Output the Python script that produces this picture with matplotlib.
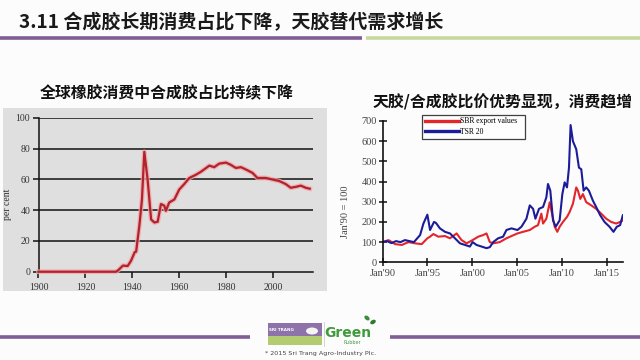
import matplotlib
matplotlib.use("Agg")
import matplotlib.pyplot as plt
from matplotlib.patches import Rectangle, Ellipse

cjk = ['Noto Sans CJK SC', 'DejaVu Sans']
serif = 'Liberation Serif'

title = "3.11 合成胶长期消费占比下降，天胶替代需求增长"
left_title = "全球橡胶消费中合成胶占比持续下降"
right_title = "天胶/合成胶比价优势显现，消费趋增"

# left chart: synthetic share of world rubber consumption (per cent)
syn_years = [1900, 1933, 1934, 1936, 1938, 1939.4, 1941, 1941.6, 1943, 1944.1,
             1945.1, 1946.5, 1948, 1949.4, 1950.8, 1952.2, 1953.6, 1954.3,
             1955.7, 1957.9, 1960, 1962.1, 1964.3, 1967, 1969.2, 1972.8,
             1974.9, 1977, 1979.9, 1982, 1984.1, 1986.3, 1988.4, 1991.2,
             1993.3, 1996.9, 1999.7, 2002.6, 2005.4, 2007.5, 2009.7, 2011.8,
             2013.9, 2015.6]
syn_share = [0, 0, 1, 4, 3.7, 7, 12.7, 13, 30, 47,
             78, 60, 34, 32, 32.5, 44, 43, 39.6,
             45, 47, 53.5, 57, 61, 63, 65, 69,
             68, 70.3, 71, 69.5, 67.5, 68, 66.5, 64.3,
             61, 61, 60, 59, 57, 54.6, 55.2, 56,
             54.6, 54]
left_xticks = [1900, 1920, 1940, 1960, 1980, 2000]
left_yticks = [0, 20, 40, 60, 80, 100]

# right chart: price index, Jan'90 = 100
tsr_t = [1990.0, 1990.5, 1991.0, 1991.5, 1992.0, 1992.5, 1993.0, 1993.5,
         1994.19, 1994.56, 1995.0, 1995.3, 1995.74, 1995.96, 1996.4, 1996.96,
         1997.52, 1998.07, 1998.63, 1999.19, 1999.74, 2000.04, 2000.48,
         2001.04, 2001.59, 2001.96, 2002.33, 2002.89, 2003.44, 2003.81,
         2004.37, 2005.04, 2005.48, 2006.04, 2006.41, 2006.78, 2007.04,
         2007.44, 2007.89, 2008.26, 2008.44, 2008.7, 2009.0, 2009.3, 2009.74,
         2010.04, 2010.3, 2010.56, 2010.78, 2010.96, 2011.22, 2011.59,
         2011.89, 2012.15, 2012.41, 2012.7, 2013.0, 2013.44, 2013.81,
         2014.26, 2014.74, 2015.3, 2015.74, 2016.11, 2016.48, 2016.78]
tsr_v = [100, 105, 95, 105, 100, 110, 105, 100,
         135, 192, 236, 160, 200, 195, 168, 151,
         143, 119, 94, 86, 78, 100, 86,
         78, 70, 75, 100, 119, 127, 160,
         168, 160, 176, 216, 282, 265, 216,
         265, 274, 322, 388, 355, 208, 176, 208,
         338, 396, 371, 469, 680, 600, 560,
         469, 461, 355, 371, 355, 306, 274,
         233, 200, 176, 151, 176, 184, 233]
sbr_t = [1990.0, 1990.67, 1991.41, 1992.15, 1992.89, 1993.63, 1994.37, 1995.0,
         1995.3, 1995.67, 1996.22, 1996.96, 1997.52, 1998.26, 1998.81,
         1999.37, 2000.04, 2000.67, 2001.22, 2001.59, 2001.96, 2002.33,
         2003.07, 2003.81, 2004.37, 2005.04, 2005.67, 2006.41, 2006.96,
         2007.33, 2007.7, 2007.89, 2008.26, 2008.63, 2008.93, 2009.19,
         2009.48, 2009.74, 2010.11, 2010.56, 2010.85, 2011.22, 2011.59,
         2011.78, 2012.04, 2012.33, 2012.7, 2013.26, 2013.81, 2014.37,
         2014.93, 2015.48, 2016.04, 2016.48, 2016.78]
sbr_v = [100, 110, 90, 86, 100, 94, 90, 119,
         127, 140, 127, 130, 119, 143, 110,
         94, 110, 127, 135, 143, 100, 94,
         100, 119, 130, 143, 151, 160, 176,
         184, 241, 192, 216, 297, 233, 176,
         151, 176, 200, 225, 249, 290, 371,
         355, 314, 338, 298, 282, 265, 241,
         216, 200, 192, 200, 208]
right_xticks = [1990, 1995, 2000, 2005, 2010, 2015]
right_xlabels = ["Jan'90", "Jan'95", "Jan'00", "Jan'05", "Jan'10", "Jan'15"]
right_yticks = [0, 100, 200, 300, 400, 500, 600, 700]

W, H = 640, 360
fig = plt.figure(figsize=(6.4, 3.6), dpi=100)
fig.patch.set_facecolor('#fdfcfd')


def box(x0, y0, x1, y1):
    # pixel box (top-left origin) -> figure fraction rect
    return [x0 / W, 1 - y1 / H, (x1 - x0) / W, (y1 - y0) / H]


bg = fig.add_axes([0, 0, 1, 1], zorder=0)
bg.set_xlim(0, W)
bg.set_ylim(H, 0)
bg.axis('off')

bg.text(19, 23, title, family=cjk, fontsize=13.7, fontweight='bold',
        color='#1a1a1a', va='center', ha='left')
bg.plot([0, 362], [38, 38], color='#7f5f96', lw=2.6, solid_capstyle='butt')
bg.plot([366, 640], [38, 38], color='#c9d99e', lw=2.6, solid_capstyle='butt')

bg.text(40, 93, left_title, family=cjk, fontsize=11.4, fontweight='bold',
        color='#111111', va='center', ha='left')
bg.text(373, 102, right_title, family=cjk, fontsize=11.4, fontweight='bold',
        color='#111111', va='center', ha='left')
bg.add_patch(Rectangle((3, 108), 324, 183, color='#dfdfdf', lw=0))

# footer
bg.plot([0, 250], [337, 337], color='#7f5f96', lw=2.6, solid_capstyle='butt')
bg.plot([390, 640], [337, 337], color='#7f5f96', lw=2.6, solid_capstyle='butt')
bg.add_patch(Rectangle((268, 323), 54, 13, color='#8e72aa', lw=0))
bg.add_patch(Rectangle((268, 336), 54, 9, color='#b3cc72', lw=0))
bg.text(281, 330, "SRI TRANG", fontsize=3, color='white', fontweight='bold',
        ha='center', va='center')
bg.add_patch(Ellipse((312, 331), 12, 7, color='#f4f4f4', lw=0))
bg.plot([324, 324], [322, 346], color='#cccccc', lw=0.6)
bg.text(348, 333, "Green", fontsize=10, color='#3f9a3c', fontweight='bold',
        ha='center', va='center')
bg.text(352, 343, "Rubber", fontsize=3.5, color='#3f9a3c', ha='center',
        va='center')
bg.add_patch(Ellipse((367, 318), 6, 4, angle=40, color='#3c8c3a', lw=0))
bg.add_patch(Ellipse((373, 322), 6, 4, angle=-30, color='#2f7a30', lw=0))
bg.text(265, 353, "* 2015 Sri Trang Agro-Industry Plc.", fontsize=4.6,
        color='#444444', ha='left', va='center')

# left chart
axl = fig.add_axes(box(38.5, 118, 313, 271.7), zorder=2)
axl.patch.set_alpha(0)
axl.plot(syn_years, syn_share, color='#f4a5a8', lw=3.4, alpha=0.8, zorder=3,
         clip_on=False)
axl.plot(syn_years, syn_share, color='#b0232c', lw=1.6, zorder=4,
         clip_on=False)
axl.set_xlim(1900, 2017)
axl.set_ylim(0, 100)
axl.set_xticks(left_xticks)
axl.set_yticks(left_yticks)
for v in left_yticks[1:]:
    axl.axhline(v, color='#111111', lw=1.1, zorder=2)
for s in ['top', 'right']:
    axl.spines[s].set_visible(False)
axl.spines['left'].set_color('#111111')
axl.spines['bottom'].set_color('#111111')
axl.spines['left'].set_linewidth(1.1)
axl.spines['bottom'].set_linewidth(1.1)
axl.tick_params(axis='both', direction='out', length=4, width=1.1,
                color='#111111', labelsize=7, labelcolor='#333333')
axl.tick_params(axis='x', pad=4)
axl.tick_params(axis='y', pad=2)
for lab in axl.get_xticklabels() + axl.get_yticklabels():
    lab.set_family(serif)
axl.set_ylabel("per cent", family=serif, fontsize=7, color='#333333')
axl.yaxis.set_label_coords(-0.098, 0.44)

# right chart
axr = fig.add_axes(box(382.5, 121, 623, 262.3), zorder=2)
axr.patch.set_alpha(0)
axr.plot(sbr_t, sbr_v, color='#e2262b', lw=1.5, label='SBR export values')
axr.plot(tsr_t, tsr_v, color='#1c1c9a', lw=1.5, label='TSR 20')
axr.set_xlim(1990, 2016.8)
axr.set_ylim(0, 700)
axr.set_xticks(right_xticks)
axr.set_xticklabels(right_xlabels)
axr.set_yticks(right_yticks)
for s in ['top', 'right']:
    axr.spines[s].set_visible(False)
for s in ['left', 'bottom']:
    axr.spines[s].set_color('#111111')
    axr.spines[s].set_linewidth(1.2)
axr.tick_params(axis='both', direction='inout', length=6, width=1.1,
                color='#111111', labelsize=7.5, labelcolor='#444444')
axr.tick_params(axis='x', pad=2)
axr.tick_params(axis='y', pad=1)
for lab in axr.get_xticklabels() + axr.get_yticklabels():
    lab.set_family(serif)
axr.set_ylabel("Jan'90 = 100", family=serif, fontsize=7.5, color='#444444')
axr.yaxis.set_label_coords(-0.135, 0.356)
leg = axr.legend(loc='upper left', bbox_to_anchor=(0.164, 0.866, 0.43, 0.18),
                 mode='expand', prop={'family': serif, 'size': 5.5},
                 frameon=True, fancybox=False, handlelength=4.5,
                 handletextpad=0.1, borderpad=0.35, labelspacing=0.35,
                 borderaxespad=0)
leg.get_frame().set_edgecolor('#111111')
leg.get_frame().set_linewidth(0.9)
for line in leg.get_lines():
    line.set_linewidth(2.4)

fig.savefig('out.png', dpi=100, facecolor=fig.get_facecolor())
